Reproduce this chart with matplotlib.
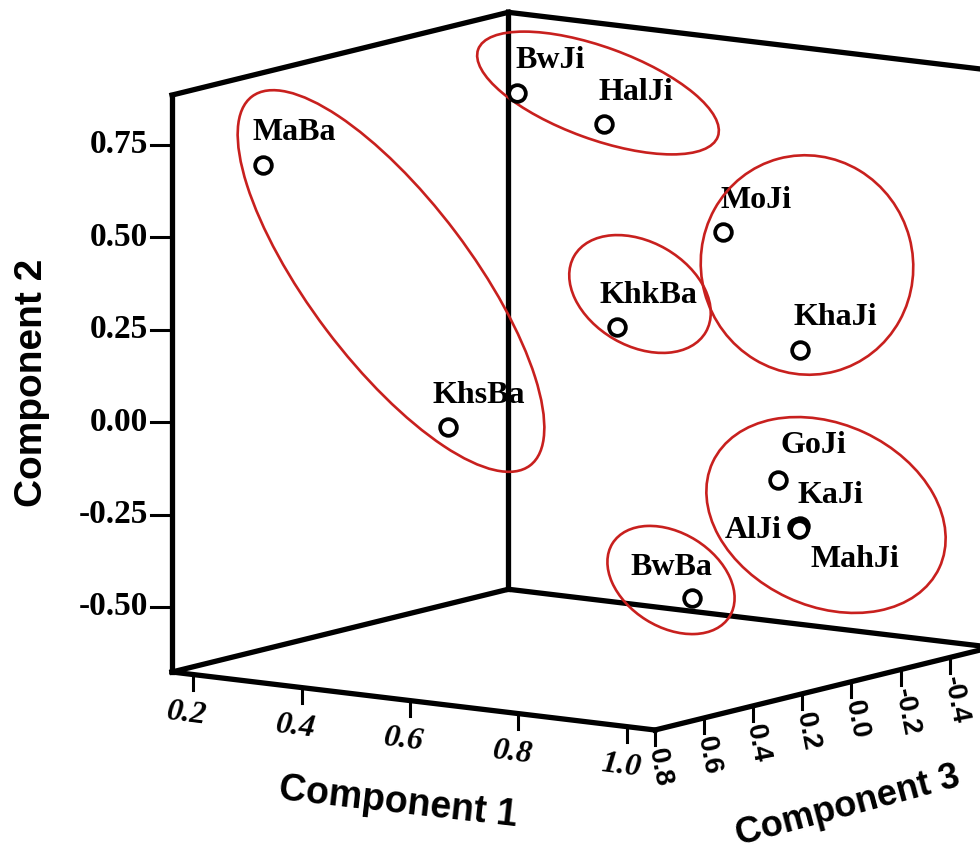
import matplotlib
matplotlib.use("Agg")
import matplotlib.pyplot as plt
from matplotlib.patches import Ellipse

# ---------------- data ----------------
labels = ["MaBa", "KhsBa", "BwJi", "HalJi", "MoJi", "KhkBa", "KhaJi",
          "GoJi", "KaJi", "AlJi", "MahJi", "BwBa"]
comp1 = [0.238, 0.398, 0.435, 0.596, 0.725, 0.710, 0.867, 0.917, 0.957, 0.952, 0.955, 0.939]
comp2 = [0.677, -0.069, 0.808, 0.753, 0.450, 0.256, 0.156, -0.154, -0.271, -0.275, -0.279, -0.404]
comp3 = [0.60, 0.20, 0.00, 0.00, -0.20, 0.20, -0.20, 0.00, 0.00, 0.00, 0.00, 0.40]

x_ticks = [0.2, 0.4, 0.6, 0.8, 1.0]
y_ticks = [0.75, 0.50, 0.25, 0.00, -0.25, -0.50]
z_ticks = [0.8, 0.6, 0.4, 0.2, 0.0, -0.2, -0.4]
x_ticklabels = ["0.2", "0.4", "0.6", "0.8", "1.0"]
y_ticklabels = ["0.75", "0.50", "0.25", "0.00", "-0.25", "-0.50"]
z_ticklabels = ["0.8", "0.6", "0.4", "0.2", "0.0", "-0.2", "-0.4"]

# ---------------- projection (oblique box) ----------------
X_MIN, X_MAX = 0.161, 1.052
Y_MIN, Y_MAX = -0.676, 0.885
Z_FRONT, Z_BACK = 0.8, -0.57
ORIGIN = (172.0, 672.0)
EX = (542.1, 65.1)
EY = (0.0, -369.6)
EZ = (245.5, -60.4)


def proj(c1, c2, c3):
    d1, d2, d3 = c1 - X_MIN, c2 - Y_MIN, Z_FRONT - c3
    return (ORIGIN[0] + d1 * EX[0] + d2 * EY[0] + d3 * EZ[0],
            ORIGIN[1] + d1 * EX[1] + d2 * EY[1] + d3 * EZ[1])


fig = plt.figure(figsize=(9.8, 8.55), dpi=100)
ax = fig.add_axes([0, 0, 1, 1])
ax.set_xlim(0, 980)
ax.set_ylim(855, 0)
ax.axis("off")

LW = 3.8
edges = [
    # left wall
    ((X_MIN, Y_MIN, Z_FRONT), (X_MIN, Y_MAX, Z_FRONT)),
    ((X_MIN, Y_MAX, Z_FRONT), (X_MIN, Y_MAX, Z_BACK)),
    ((X_MIN, Y_MIN, Z_FRONT), (X_MIN, Y_MIN, Z_BACK)),
    ((X_MIN, Y_MIN, Z_BACK), (X_MIN, Y_MAX, Z_BACK)),
    # back wall
    ((X_MIN, Y_MAX, Z_BACK), (X_MAX, Y_MAX, Z_BACK)),
    ((X_MIN, Y_MIN, Z_BACK), (X_MAX, Y_MIN, Z_BACK)),
    ((X_MAX, Y_MIN, Z_BACK), (X_MAX, Y_MAX, Z_BACK)),
    # floor
    ((X_MIN, Y_MIN, Z_FRONT), (X_MAX, Y_MIN, Z_FRONT)),
    ((X_MAX, Y_MIN, Z_FRONT), (X_MAX, Y_MIN, Z_BACK)),
]
for a, b in edges:
    pa, pb = proj(*a), proj(*b)
    ax.plot([pa[0], pb[0]], [pa[1], pb[1]], color="black", lw=LW,
            solid_capstyle="projecting", zorder=3)

serif = "Liberation Serif"
sans = "Liberation Sans"
TICK_LEN = 15

# Component 2 ticks (front-left vertical edge)
for v, t in zip(y_ticks, y_ticklabels):
    px, py = proj(X_MIN, v, Z_FRONT)
    ax.plot([px - 21, px], [py, py], color="black", lw=2.2, zorder=3)
    ax.text(px - 24, py, t, ha="right", va="center", fontsize=24,
            fontweight="bold", family=serif, zorder=3)

# Component 1 ticks (front floor edge)
for v, t in zip(x_ticks, x_ticklabels):
    px, py = proj(v, Y_MIN, Z_FRONT)
    ax.plot([px, px], [py, py + TICK_LEN], color="black", lw=2.2, zorder=3)
    ax.text(px - 6, py + 39, t, ha="center", va="center", fontsize=23,
            fontweight="bold", fontstyle="italic", family=serif,
            rotation=-7, rotation_mode="anchor", zorder=3)

# Component 3 ticks (right floor edge)
for v, t in zip(z_ticks, z_ticklabels):
    px, py = proj(X_MAX, Y_MIN, v)
    ax.plot([px, px], [py, py + TICK_LEN], color="black", lw=2.2, zorder=3)
    ax.text(px + 1, py + 19, t, ha="left", va="center", fontsize=20,
            fontweight="bold", family=sans, rotation=-79,
            rotation_mode="anchor", zorder=3)

# axis titles
ax.text(32, 383, "Component 2", rotation=90, ha="center", va="center",
        fontsize=28, fontweight="bold", family=sans)
ax.text(398, 803, "Component 1", rotation=-6.5, ha="center", va="center",
        fontsize=27, fontweight="bold", family=sans, rotation_mode="anchor")
ax.text(848, 806, "Component 3", rotation=15, ha="center", va="center",
        fontsize=26, fontweight="bold", family=sans, rotation_mode="anchor")

# points
pts = [proj(a, b, c) for a, b, c in zip(comp1, comp2, comp3)]
ax.plot([p[0] for p in pts], [p[1] for p in pts], linestyle="none",
        marker="o", markersize=12, markerfacecolor="white",
        markeredgecolor="black", markeredgewidth=2.7, zorder=5)

# label offsets (pixels: dx of left edge, dy of baseline)
label_offsets = {
    "MaBa": (-10, -25), "KhsBa": (-15, -24), "BwJi": (-1, -25),
    "HalJi": (-6, -24), "MoJi": (-3, -24), "KhkBa": (-17, -24),
    "KhaJi": (-7, -25), "GoJi": (2, -27), "KaJi": (-2, -23),
    "AlJi": (-72, 11), "MahJi": (12, 38), "BwBa": (-62, -23),
}
for name, p in zip(labels, pts):
    dx, dy = label_offsets[name]
    ax.text(p[0] + dx, p[1] + dy, name, ha="left", va="baseline",
            fontsize=23, fontweight="bold", family=serif, zorder=2)

# red cluster outlines (center x, center y, width, height, angle) in pixels
outlines = [
    (391, 281, 462, 162, 53),
    (598, 93, 255, 92, 20),
    (807, 265, 212, 220, -15),
    (640, 294, 152, 104, 30),
    (826, 515, 250, 182, 25),
    (671, 580, 138, 94, 32),
]
for cx, cy, w, h, ang in outlines:
    ax.add_patch(Ellipse((cx, cy), w, h, angle=ang, fill=False,
                         edgecolor="#c8201e", lw=1.9, zorder=4))

fig.savefig("out.png", dpi=100)
